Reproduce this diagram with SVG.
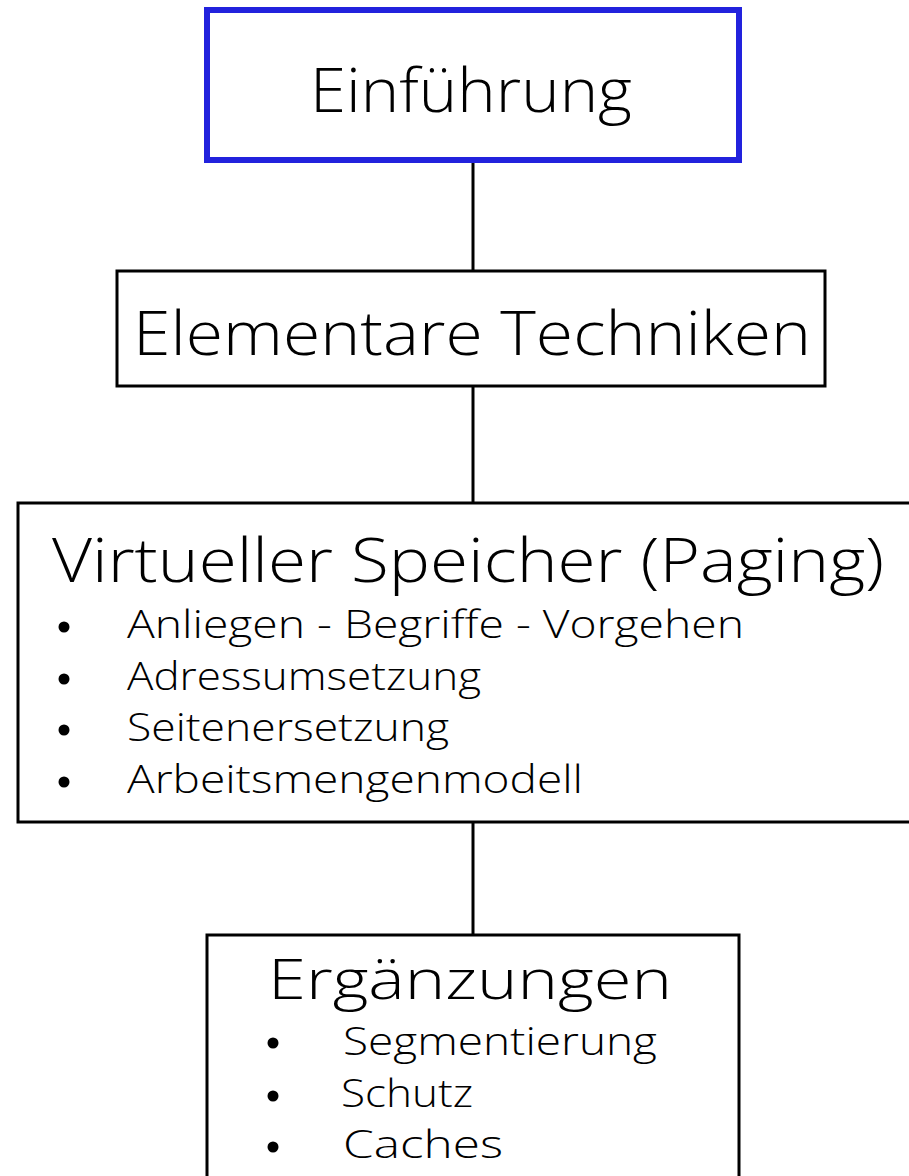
<svg xmlns="http://www.w3.org/2000/svg" width="909" height="1176" viewBox="0 0 909 1176">
<style>
.box{fill:#fff;stroke:#000;stroke-width:3}
.blue{fill:#fff;stroke:#2222dd;stroke-width:6}
.con{stroke:#000;stroke-width:3;fill:none}
text{font-family:"Open Sans","Liberation Sans",sans-serif;fill:#000}
.t{font-size:61px;font-weight:300}
.e{font-size:56px;font-weight:300}
.i{font-size:38px;font-weight:300}
</style>
<rect width="909" height="1176" fill="#fff"/>
<g id="connectors">
<line class="con" x1="473" y1="160" x2="473" y2="271"/>
<line class="con" x1="473" y1="386" x2="473" y2="503"/>
<line class="con" x1="473" y1="822" x2="473" y2="935"/>
</g>
<g id="einfuehrung">
<rect class="blue" x="207" y="10" width="532" height="150"/>
<text class="t" x="310" y="112" textLength="322" lengthAdjust="spacingAndGlyphs">Einführung</text>
</g>
<g id="elementare">
<rect class="box" x="117" y="271" width="708" height="115"/>
<text class="t" x="133" y="355" textLength="678" lengthAdjust="spacingAndGlyphs">Elementare Techniken</text>
</g>
<g id="virtueller">
<rect class="box" x="18" y="503" width="900" height="319"/>
<text class="t" x="52" y="582" textLength="832" lengthAdjust="spacingAndGlyphs">Virtueller Speicher (Paging)</text>
<circle cx="64" cy="627" r="5.5"/>
<circle cx="64" cy="679" r="5.5"/>
<circle cx="64" cy="730" r="5.5"/>
<circle cx="64" cy="782" r="5.5"/>
<text class="i" x="127" y="638" textLength="617" lengthAdjust="spacingAndGlyphs">Anliegen - Begriffe - Vorgehen</text>
<text class="i" x="127" y="690" textLength="354" lengthAdjust="spacingAndGlyphs">Adressumsetzung</text>
<text class="i" x="127" y="741" textLength="322" lengthAdjust="spacingAndGlyphs">Seitenersetzung</text>
<text class="i" x="127" y="793" textLength="456" lengthAdjust="spacingAndGlyphs">Arbeitsmengenmodell</text>
</g>
<g id="ergaenzungen">
<rect class="box" x="207" y="935" width="532" height="260"/>
<text class="e" x="268" y="999" textLength="404" lengthAdjust="spacingAndGlyphs">Ergänzungen</text>
<circle cx="273" cy="1043" r="5.5"/>
<circle cx="273" cy="1096" r="5.5"/>
<circle cx="273" cy="1147" r="5.5"/>
<text class="i" x="343" y="1055" textLength="314" lengthAdjust="spacingAndGlyphs">Segmentierung</text>
<text class="i" x="341" y="1107" textLength="132" lengthAdjust="spacingAndGlyphs">Schutz</text>
<text class="i" x="343" y="1158" textLength="160" lengthAdjust="spacingAndGlyphs">Caches</text>
</g>
</svg>
